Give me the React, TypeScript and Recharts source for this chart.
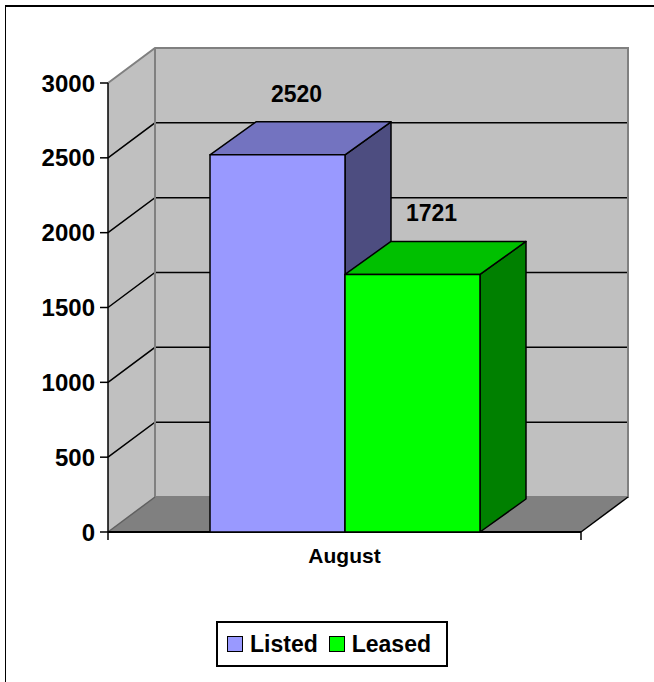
import React from 'react'
import { BarChart, Bar, XAxis, YAxis, ReferenceArea, LabelList, Legend } from 'recharts'

const months = ['August']
const listed = [2520]
const leased = [1721]
const yTicks = [0, 500, 1000, 1500, 2000, 2500, 3000]

const data = months.map((month, i) => ({ month, Listed: listed[i], Leased: leased[i] }))

const FONT = '"Liberation Sans", Arial, sans-serif'
// depth of the 3d walls and of the boxes
const WALL_DX = 47
const WALL_DY = 35
const BAR_DX = 46
const BAR_DY = 33

const listedColors = { front: '#9999ff', top: '#7373c0', side: '#4d4d80' }
const leasedColors = { front: '#00ff00', top: '#00c000', side: '#008000' }

function Walls(props: any) {
  const { x, y, width, height } = props
  const x0 = x
  const x1 = x + width
  const yTop = y
  const yBot = y + height
  const max = yTicks[yTicks.length - 1]
  const grid = yTicks.slice(1, -1).map(v => yBot - (v / max) * height)
  return (
    <g>
      <polygon
        points={`${x0},${yBot} ${x0},${yTop} ${x0 + WALL_DX},${yTop - WALL_DY} ${x0 + WALL_DX},${yBot - WALL_DY}`}
        fill="#c0c0c0"
      />
      <rect x={x0 + WALL_DX} y={yTop - WALL_DY} width={width} height={height} fill="#c0c0c0" />
      <polygon
        points={`${x0},${yBot} ${x0 + WALL_DX},${yBot - WALL_DY} ${x1 + WALL_DX},${yBot - WALL_DY} ${x1},${yBot}`}
        fill="#808080"
      />
      {grid.map((gy, i) => (
        <polyline
          key={i}
          points={`${x0},${gy} ${x0 + WALL_DX},${gy - WALL_DY} ${x1 + WALL_DX},${gy - WALL_DY}`}
          fill="none"
          stroke="#000"
          strokeWidth={1.5}
        />
      ))}
      {/* wall edges */}
      <polyline
        points={`${x0},${yTop} ${x0 + WALL_DX},${yTop - WALL_DY} ${x1 + WALL_DX},${yTop - WALL_DY} ${x1 + WALL_DX},${yBot - WALL_DY} ${x0 + WALL_DX},${yBot - WALL_DY} ${x0 + WALL_DX},${yTop - WALL_DY}`}
        fill="none"
        stroke="#808080"
        strokeWidth={2}
      />
      <line x1={x0} y1={yBot} x2={x0 + WALL_DX} y2={yBot - WALL_DY} stroke="#606060" strokeWidth={1.5} />
      <line x1={x1} y1={yBot} x2={x1 + WALL_DX} y2={yBot - WALL_DY} stroke="#000" strokeWidth={1.5} />
      <line x1={x0} y1={yBot} x2={x1} y2={yBot} stroke="#000" strokeWidth={2} />
      <line x1={x0} y1={yBot} x2={x0} y2={yBot + 8} stroke="#000" strokeWidth={1.5} />
      <line x1={x1} y1={yBot} x2={x1} y2={yBot + 8} stroke="#000" strokeWidth={1.5} />
    </g>
  )
}

function Box3D(props: any) {
  const { x, y, width, height, colors } = props
  const r = x + width
  const b = y + height
  return (
    <g stroke="#000" strokeWidth={1.5} strokeLinejoin="round">
      <polygon
        points={`${r},${b} ${r},${y} ${r + BAR_DX},${y - BAR_DY} ${r + BAR_DX},${b - BAR_DY}`}
        fill={colors.side}
      />
      <polygon
        points={`${x},${y} ${x + BAR_DX},${y - BAR_DY} ${r + BAR_DX},${y - BAR_DY} ${r},${y}`}
        fill={colors.top}
      />
      <rect x={x} y={y} width={width} height={height} fill={colors.front} />
    </g>
  )
}

function ValueLabel(props: any) {
  const { x, y, width, value } = props
  return (
    <text
      x={x + width / 2 + 19}
      y={y - BAR_DY - 20}
      textAnchor="middle"
      fontFamily={FONT}
      fontWeight="bold"
      fontSize={23}
      fill="#000"
    >
      {value}
    </text>
  )
}

function LegendBox() {
  const item = (label: string, color: string) => (
    <span style={{ display: 'flex', alignItems: 'center', gap: 7 }}>
      <span style={{ width: 14, height: 14, background: color, border: '1.5px solid #000', display: 'inline-block' }} />
      <span>{label}</span>
    </span>
  )
  return (
    <div
      style={{
        boxSizing: 'border-box',
        width: 232,
        height: 46,
        border: '2px solid #000',
        background: '#fff',
        display: 'flex',
        alignItems: 'center',
        gap: 11,
        paddingLeft: 9,
        fontFamily: FONT,
        fontWeight: 'bold',
        fontSize: 23,
        color: '#000',
      }}
    >
      {item('Listed', listedColors.front)}
      {item('Leased', leasedColors.front)}
    </div>
  )
}

export default function App() {
  return (
    <div style={{ position: 'absolute', left: 0, top: 0, width: 654, height: 682, background: '#fff' }}>
      <div
        style={{
          position: 'absolute',
          left: 5,
          top: 5,
          width: 660,
          height: 700,
          borderLeft: '1px solid #000',
          borderTop: '2px solid #000',
        }}
      />
      <BarChart
        width={654}
        height={682}
        data={data}
        margin={{ top: 83, right: 73, bottom: 64, left: 0 }}
        barSize={135}
        barGap={0}
      >
        <ReferenceArea y1={0} y2={3000} shape={<Walls />} ifOverflow="visible" />
        <XAxis
          dataKey="month"
          height={40}
          axisLine={false}
          tickLine={false}
          tickSize={8}
          tickMargin={8}
          tick={{ fontFamily: FONT, fontWeight: 'bold', fontSize: 21, fill: '#000' }}
        />
        <YAxis
          width={108}
          domain={[0, 3000]}
          ticks={yTicks}
          interval={0}
          axisLine={{ stroke: '#000', strokeWidth: 1.5 }}
          tickLine={{ stroke: '#000', strokeWidth: 1.5 }}
          tickSize={8}
          tickMargin={5}
          tick={{ fontFamily: FONT, fontWeight: 'bold', fontSize: 24, fill: '#000' }}
        />
        <Bar
          dataKey="Listed"
          isAnimationActive={false}
          shape={(p: any) => <Box3D {...p} colors={listedColors} />}
        >
          <LabelList dataKey="Listed" content={<ValueLabel />} />
        </Bar>
        <Bar
          dataKey="Leased"
          isAnimationActive={false}
          shape={(p: any) => <Box3D {...p} colors={leasedColors} />}
        >
          <LabelList dataKey="Leased" content={<ValueLabel />} />
        </Bar>
        <Legend
          content={() => <LegendBox />}
          wrapperStyle={{ position: 'absolute', left: 216, top: 621, width: 232, height: 46 }}
        />
      </BarChart>
    </div>
  )
}
